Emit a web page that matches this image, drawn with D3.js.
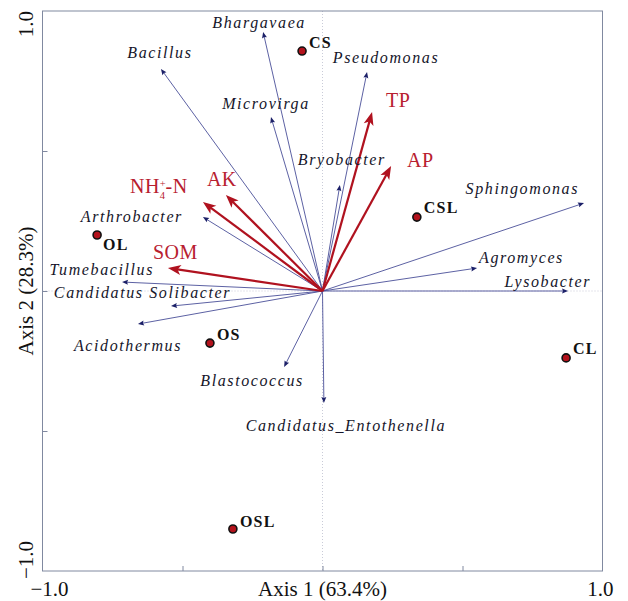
<!DOCTYPE html>
<html>
<head>
<meta charset="utf-8">
<script src="https://cdn.jsdelivr.net/npm/d3@7"></script>
<style>
  html, body { margin: 0; padding: 0; background: #fff; }
  svg { display: block; }
</style>
</head>
<body>
<svg id="chart" width="628" height="601"></svg>
<script>
// RDA biplot: genera (blue arrows), soil properties (red arrows), samples (points)

const speciesNames = [
  "Bhargavaea", "Bacillus", "Microvirga", "Bryobacter", "Pseudomonas",
  "Arthrobacter", "Tumebacillus", "Candidatus Solibacter", "Acidothermus",
  "Blastococcus", "Candidatus_Entothenella", "Lysobacter", "Agromyces", "Sphingomonas"
];
const speciesAxis1 = [-0.212, -0.577, -0.184, 0.062, 0.159, -0.427, -0.716, -0.541, -0.659, -0.137, 0.005, 0.877, 0.552, 0.934];
const speciesAxis2 = [0.925, 0.793, 0.621, 0.379, 0.782, 0.264, 0.032, -0.054, -0.118, -0.271, -0.400, 0.000, 0.082, 0.314];

const envNames = ["TP", "AP", "AK", "NH4-N", "SOM"];
const envAxis1 = [0.177, 0.245, -0.345, -0.427, -0.552];
const envAxis2 = [0.639, 0.446, 0.343, 0.318, 0.082];

const siteNames = ["CS", "CSL", "OL", "OS", "OSL", "CL"];
const siteAxis1 = [-0.073, 0.337, -0.805, -0.402, -0.320, 0.870];
const siteAxis2 = [0.857, 0.264, 0.200, -0.186, -0.850, -0.239];

const axisDomain = [-1, 1];
const tickValues = [-0.5, 0, 0.5];
const xEndLabels = ["\u22121.0", "1.0"];
const yEndLabels = ["\u22121.0", "1.0"];
const xTitle = "Axis 1 (63.4%)";
const yTitle = "Axis 2 (28.3%)";

// label placement relative to each arrow tip / point: [dx, dy, anchor]
const speciesLabelPos = {
  "Bhargavaea": [-4, -4, "middle"],
  "Bacillus": [-1, -11, "middle"],
  "Microvirga": [-5, -8, "middle"],
  "Bryobacter": [2, -20, "middle"],
  "Pseudomonas": [19, -9, "middle"],
  "Arthrobacter": [-20, 5, "end"],
  "Tumebacillus": [32, -7, "end"],
  "Candidatus Solibacter": [60, -8, "end"],
  "Acidothermus": [-10, 27, "middle"],
  "Blastococcus": [-32, 19, "middle"],
  "Candidatus_Entothenella": [22, 28, "middle"],
  "Lysobacter": [23, -4, "end"],
  "Agromyces": [2, -5, "start"],
  "Sphingomonas": [-5, -9, "end"]
};
const envLabelPos = {
  "TP": [14, -5], "AP": [16, 1], "AK": [-19, -9], "NH4-N": [-73, -9], "SOM": [-15, -9]
};
const siteLabelPos = {
  "CS": [7, -3], "CSL": [7, -4], "OL": [6, 15], "OS": [7, -3], "OSL": [7, -2], "CL": [7, -4]
};

const svg = d3.select("#chart");
const serif = "'Liberation Serif', 'Times New Roman', serif";

const x = d3.scaleLinear().domain(axisDomain).range([42.5, 602.5]);
const y = d3.scaleLinear().domain(axisDomain).range([571, 11]);

const frameColor = "#8089a0";
const blue = "#4a4f98";
const blueHead = "#1c2068";
const red = "#b0121f";
const redText = "#b8202f";

// zero lines
svg.append("line")
  .attr("x1", x(0)).attr("x2", x(0)).attr("y1", y(1)).attr("y2", y(-1))
  .attr("stroke", "#c9cbd8").attr("stroke-width", 1).attr("stroke-dasharray", "1,2");
svg.append("line")
  .attr("x1", x(-1)).attr("x2", x(1)).attr("y1", y(0)).attr("y2", y(0))
  .attr("stroke", "#c9cbd8").attr("stroke-width", 1).attr("stroke-dasharray", "1,2");

// frame
svg.append("rect")
  .attr("x", x(-1)).attr("y", y(1))
  .attr("width", x(1) - x(-1)).attr("height", y(-1) - y(1))
  .attr("fill", "none").attr("stroke", frameColor).attr("stroke-width", 1);

// inward ticks
const xAxis = d3.axisBottom(x).tickValues(tickValues).tickSize(-5).tickFormat("");
const yAxis = d3.axisLeft(y).tickValues(tickValues).tickSize(-5).tickFormat("");
const gx = svg.append("g").attr("transform", `translate(0,${y(-1)})`).call(xAxis);
const gy = svg.append("g").attr("transform", `translate(${x(-1)},0)`).call(yAxis);
[gx, gy].forEach(g => {
  g.select(".domain").remove();
  g.selectAll(".tick line").attr("stroke", frameColor);
});

// axis end labels and titles
svg.append("text").attr("x", x(-1) - 12).attr("y", 596)
  .attr("font-family", serif).attr("font-size", 21).attr("fill", "#111")
  .text(xEndLabels[0]);
svg.append("text").attr("x", x(1) + 11).attr("y", 596).attr("text-anchor", "end")
  .attr("font-family", serif).attr("font-size", 21).attr("fill", "#111")
  .text(xEndLabels[1]);
svg.append("text").attr("x", x(0)).attr("y", 596).attr("text-anchor", "middle")
  .attr("font-family", serif).attr("font-size", 21).attr("fill", "#111")
  .text(xTitle);

function rotLabel(txt, cy, anchor) {
  svg.append("text")
    .attr("transform", `translate(33,${cy}) rotate(-90)`)
    .attr("text-anchor", anchor)
    .attr("font-family", serif).attr("font-size", 21).attr("fill", "#111")
    .text(txt);
}
rotLabel(yEndLabels[1], 24, "middle");
rotLabel(yEndLabels[0], 560, "middle");
rotLabel(yTitle, y(0), "middle");

// arrow helper: shaft from origin, filled head at the tip
function arrow(g, vx, vy, opt) {
  const x0 = x(0), y0 = y(0), x1 = x(vx), y1 = y(vy);
  const dx = x1 - x0, dy = y1 - y0;
  const len = Math.hypot(dx, dy);
  const ux = dx / len, uy = dy / len;
  const px = -uy, py = ux;
  const L = opt.headLen, W = opt.headWidth / 2;
  g.append("line")
    .attr("x1", x0).attr("y1", y0)
    .attr("x2", x1 - ux * L * opt.shaftCut).attr("y2", y1 - uy * L * opt.shaftCut)
    .attr("stroke", opt.stroke).attr("stroke-width", opt.width);
  const bx = x1 - ux * L, by = y1 - uy * L;
  const nx = x1 - ux * L * opt.notch, ny = y1 - uy * L * opt.notch;
  g.append("path")
    .attr("d", `M${x1},${y1}L${bx + px * W},${by + py * W}L${nx},${ny}L${bx - px * W},${by - py * W}Z`)
    .attr("fill", opt.head);
}

// genera arrows
const gSp = svg.append("g");
speciesNames.forEach((n, i) => {
  arrow(gSp, speciesAxis1[i], speciesAxis2[i], {
    stroke: blue, width: 0.9, head: blueHead, headLen: 6, headWidth: 5, notch: 0.85, shaftCut: 0.5
  });
});

// soil property arrows
const gEnv = svg.append("g");
envNames.forEach((n, i) => {
  arrow(gEnv, envAxis1[i], envAxis2[i], {
    stroke: red, width: 2.2, head: red, headLen: 13, headWidth: 10, notch: 0.75, shaftCut: 0.6
  });
});

// genera labels
speciesNames.forEach((n, i) => {
  const p = speciesLabelPos[n];
  svg.append("text")
    .attr("x", x(speciesAxis1[i]) + p[0]).attr("y", y(speciesAxis2[i]) + p[1])
    .attr("text-anchor", p[2])
    .attr("font-family", serif).attr("font-style", "italic").attr("font-size", 16)
    .attr("letter-spacing", 1.6).attr("fill", "#15152a")
    .text(n);
});

// soil property labels; NH4+-N gets a stacked super/subscript
envNames.forEach((n, i) => {
  const p = envLabelPos[n];
  const t = svg.append("text")
    .attr("x", x(envAxis1[i]) + p[0]).attr("y", y(envAxis2[i]) + p[1])
    .attr("font-family", serif).attr("font-size", 20)
    .attr("letter-spacing", 0.5).attr("fill", redText);
  if (n === "NH4-N") {
    t.append("tspan").text("NH");
    t.append("tspan").attr("font-size", 10.5).attr("dy", -6).text("+");
    t.append("tspan").attr("font-size", 10.5).attr("dx", -6.5).attr("dy", 12.5).text("4");
    t.append("tspan").attr("dy", -6.5).text("-N");
  } else {
    t.text(n);
  }
});

// sample points
siteNames.forEach((n, i) => {
  const cx = x(siteAxis1[i]), cy = y(siteAxis2[i]);
  svg.append("circle").attr("cx", cx).attr("cy", cy).attr("r", 4)
    .attr("fill", "#b3121c").attr("stroke", "#111").attr("stroke-width", 1.6);
  const p = siteLabelPos[n];
  svg.append("text").attr("x", cx + p[0]).attr("y", cy + p[1])
    .attr("font-family", serif).attr("font-weight", "bold").attr("font-size", 16)
    .attr("letter-spacing", 1.2).attr("fill", "#111")
    .text(n);
});
</script>
</body>
</html>
